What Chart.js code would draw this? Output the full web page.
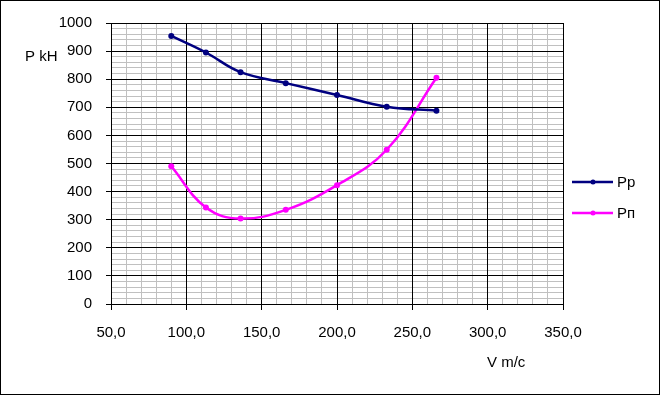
<!DOCTYPE html>
<html><head><meta charset="utf-8">
<script src="https://cdn.jsdelivr.net/npm/chart.js@4/dist/chart.umd.min.js"></script>
<style>html,body{margin:0;padding:0;background:#fff}canvas{display:block}</style>
</head><body><canvas id="c" width="660" height="395"></canvas>
<script>
// ---- data ----
const speedV   = [90, 113, 136, 166, 200, 233, 266];
const seriesPp = [954, 895, 825, 786, 744, 702, 688];
const seriesPn = [490, 343, 304, 335, 423, 549, 805];
const seriesNames = ['Pp', 'Pп'];
const seriesColors = ['#000080', '#ff00ff'];
const yTitle = 'P kH';
const xTitle = 'V m/c';
const xMin = 50, xMax = 350, xMajor = 50, xMinor = 10;
const yMin = 0, yMax = 1000, yMajor = 100, yMinor = 20;

const FONT = '"Liberation Sans", Arial, sans-serif';
const FS = 15;

function toPts(xs, ys) { return xs.map((x, i) => ({x: x, y: ys[i]})); }
const isMajor = (v, step) => Math.abs(v / step - Math.round(v / step)) < 1e-6;
const align = p => Math.round(p - 0.5) + 0.5;

const frame = {
  id: 'frame',
  beforeDraw(chart) {
    const c = chart.ctx;
    c.save(); c.fillStyle = '#fff'; c.fillRect(0, 0, chart.width, chart.height); c.restore();
  },
  beforeDatasetsDraw(chart) {
    // major grid lines on top of the minor ones
    const c = chart.ctx, a = chart.chartArea;
    const xs = chart.scales.x, ys = chart.scales.y;
    c.save();
    c.strokeStyle = '#000'; c.lineWidth = 1;
    c.beginPath();
    xs.ticks.forEach(t => {
      if (!isMajor(t.value, xMajor)) return;
      const p = align(xs.getPixelForValue(t.value));
      c.moveTo(p, a.top); c.lineTo(p, a.bottom);
    });
    ys.ticks.forEach(t => {
      if (!isMajor(t.value, yMajor)) return;
      const p = align(ys.getPixelForValue(t.value));
      c.moveTo(a.left, p); c.lineTo(a.right, p);
    });
    c.stroke();
    c.restore();
  },
  afterDraw(chart) {
    const c = chart.ctx;
    c.save();
    c.strokeStyle = '#000'; c.lineWidth = 1;
    c.strokeRect(0.5, 0.5, chart.width - 1, chart.height - 1);
    c.font = FS + 'px ' + FONT;
    c.fillStyle = '#000';
    c.textBaseline = 'middle';
    c.textAlign = 'left';
    c.fillText(yTitle, 25, 57);
    c.fillText(xTitle, 487, 363);
    // legend
    const items = chart.data.datasets;
    items.forEach((ds, i) => {
      const y = 182 + i * 31;
      c.strokeStyle = ds.borderColor; c.lineWidth = 2.5;
      c.beginPath(); c.moveTo(572, y); c.lineTo(613, y); c.stroke();
      c.fillStyle = ds.borderColor;
      c.beginPath(); c.arc(593, y, 2.5, 0, Math.PI * 2); c.fill();
      c.fillStyle = '#000';
      c.fillText(ds.label, 617, y + 1);
    });
    c.restore();
  }
};

new Chart(document.getElementById('c'), {
  type: 'scatter',
  data: {
    datasets: [
      {label: seriesNames[0], data: toPts(speedV, seriesPp), borderColor: seriesColors[0], backgroundColor: seriesColors[0]},
      {label: seriesNames[1], data: toPts(speedV, seriesPn), borderColor: seriesColors[1], backgroundColor: seriesColors[1]}
    ].map(d => Object.assign(d, {showLine: true, tension: 0.4, borderWidth: 2.5, pointRadius: 3, pointHoverRadius: 3, pointBorderWidth: 0}))
  },
  options: {
    responsive: false,
    animation: false,
    devicePixelRatio: 1,
    layout: {padding: {left: 0, top: 21, right: 97, bottom: 0}},
    plugins: {legend: {display: false}, tooltip: {enabled: false}},
    scales: {
      x: {
        type: 'linear', min: xMin, max: xMax,
        afterFit(s) { s.height = 91; },
        ticks: {
          stepSize: xMinor, autoSkip: false, maxRotation: 0, maxTicksLimit: 100,
          padding: 14, color: '#000', font: {family: FONT, size: FS},
          callback: v => isMajor(v, xMajor) ? v.toFixed(1).replace('.', ',') : ''
        },
        grid: {
          color: c => (c.tick && isMajor(c.tick.value, xMajor)) ? '#000' : '#c0c0c0',
          tickColor: c => (c.tick && isMajor(c.tick.value, xMajor)) ? '#000' : 'rgba(0,0,0,0)',
          tickLength: 6, lineWidth: 1
        },
        border: {display: true, color: '#000', width: 1}
      },
      y: {
        type: 'linear', min: yMin, max: yMax,
        afterFit(s) { s.width = 111; },
        ticks: {
          stepSize: yMinor, autoSkip: false, maxTicksLimit: 100,
          padding: 14, color: '#000', font: {family: FONT, size: FS},
          callback: v => isMajor(v, yMajor) ? String(v) : ''
        },
        grid: {
          color: c => (c.tick && isMajor(c.tick.value, yMajor)) ? '#000' : '#c0c0c0',
          tickColor: c => (c.tick && isMajor(c.tick.value, yMajor)) ? '#000' : 'rgba(0,0,0,0)',
          tickLength: 5, lineWidth: 1
        },
        border: {display: true, color: '#000', width: 1}
      }
    }
  },
  plugins: [frame]
});
</script>
</body></html>
